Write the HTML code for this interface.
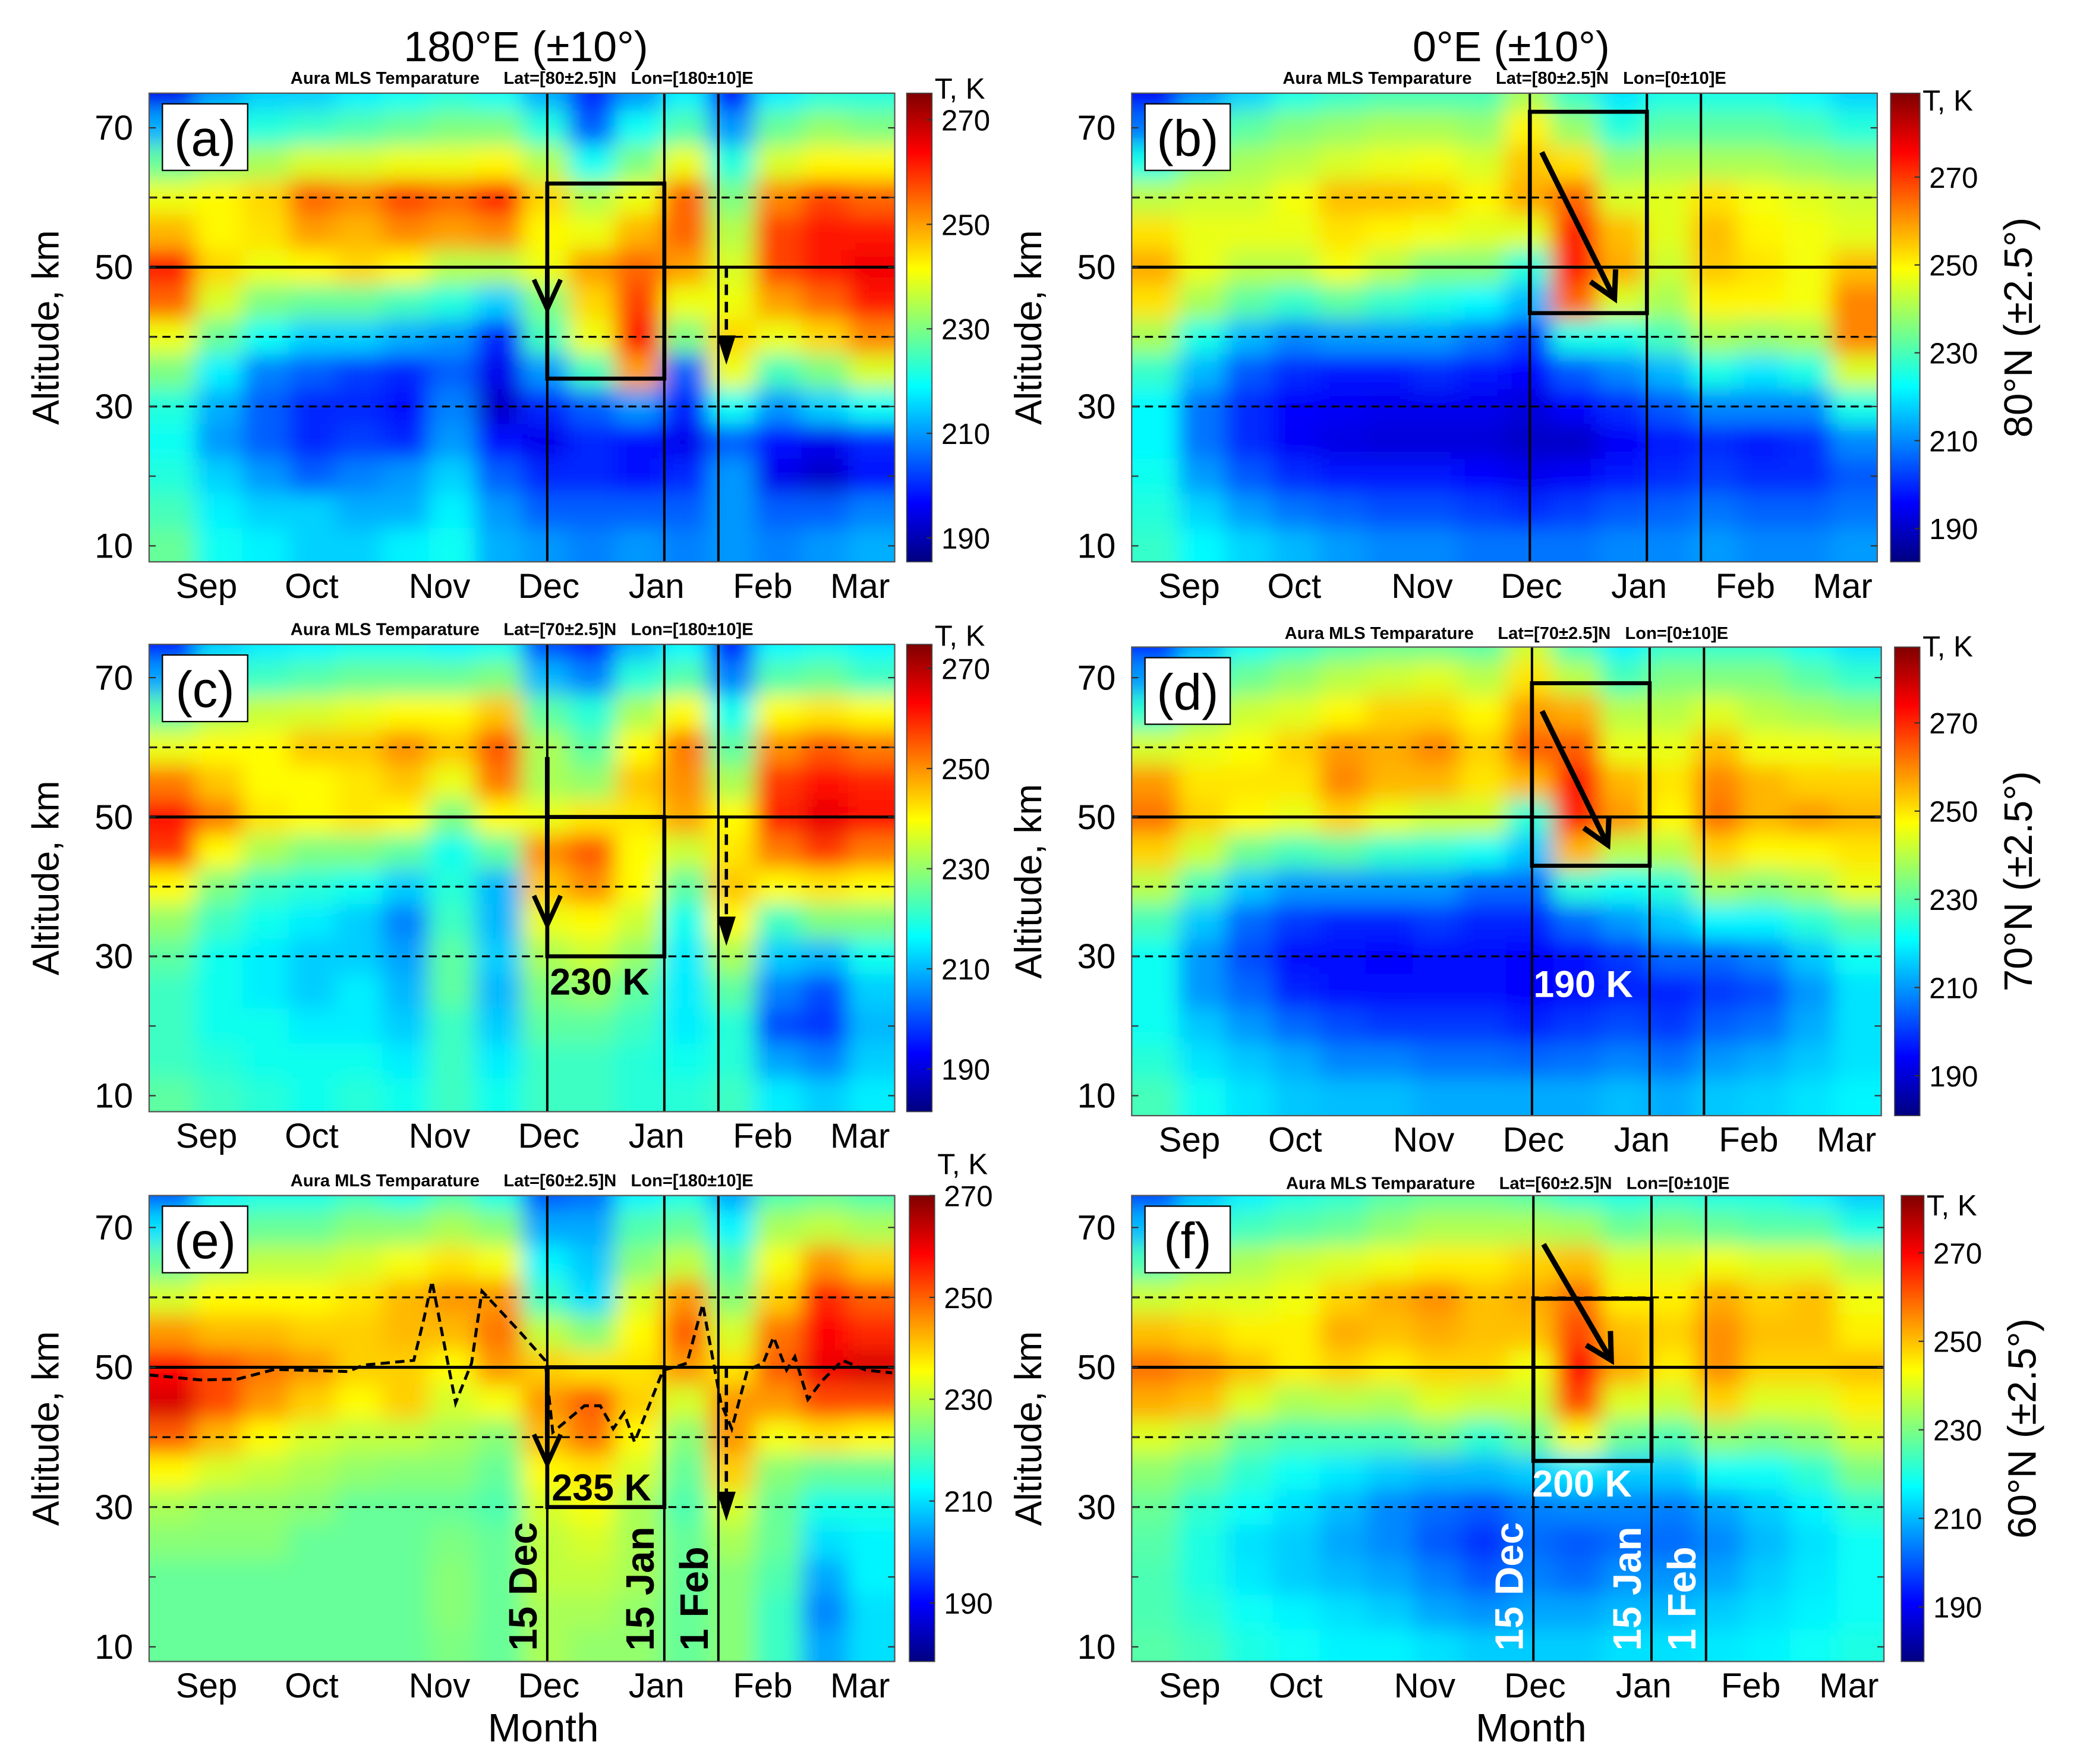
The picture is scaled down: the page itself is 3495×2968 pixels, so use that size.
<!DOCTYPE html>
<html><head><meta charset="utf-8">
<style>
html,body{margin:0;padding:0;background:#fff;}
svg{display:block;font-family:"Liberation Sans",Arial,sans-serif;}
.pre{white-space:pre;}
</style></head>
<body>
<svg id="fig" xmlns="http://www.w3.org/2000/svg" width="3495" height="2968" viewBox="0 0 1560 1325" preserveAspectRatio="none">
<defs>
<filter id="blur" x="-5%" y="-5%" width="110%" height="110%"><feGaussianBlur stdDeviation="8"/></filter>
</defs>
<text x="395" y="46" font-size="32" text-anchor="middle">180°E (±10°)</text>
<text x="1135" y="46" font-size="32" text-anchor="middle">0°E (±10°)</text>
<text x="408" y="1308" font-size="30" text-anchor="middle">Month</text>
<text x="1150" y="1308" font-size="30" text-anchor="middle">Month</text>
</svg>
<script>
// ---------- data ----------
const monthLabels = ["Sep","Oct","Nov","Dec","Jan","Feb","Mar"];
const monthDays = [15.4, 43.6, 77.9, 107.2, 136.1, 164.6, 190.7];
const altTicks = [70, 50, 30, 10];
const altRows = [75,70,65,60,55,50,45,40,35,30,25,20,15,10];
const eventDays = [106.8, 138.2, 152.7];
const eventLabels = ["15 Dec","15 Jan","1 Feb"];
const colTicksA = [270,250,230,210,190];

const tempsA = [
[195,210,215,215,218,220,222,220,212,200,210,218,198,218,222,222],
[212,220,222,224,226,228,230,230,222,205,220,226,210,228,232,230],
[228,232,234,238,238,240,240,242,235,220,230,240,222,238,242,242],
[240,242,245,255,252,258,255,262,245,235,240,255,230,252,258,255],
[248,242,244,250,248,252,250,252,242,240,248,255,235,258,262,262],
[262,245,240,242,245,242,235,235,240,250,255,250,238,258,262,265],
[255,238,230,228,228,225,222,215,230,245,258,240,240,250,255,262],
[240,228,220,215,215,212,210,200,225,240,262,230,245,240,245,252],
[230,218,208,205,202,200,205,195,210,225,250,205,240,225,230,238],
[222,212,205,200,200,198,208,192,200,205,210,200,220,210,215,220],
[220,210,205,200,202,200,210,198,195,200,198,195,205,198,195,200],
[222,215,210,205,208,210,215,205,200,200,198,200,210,195,192,198],
[225,218,215,215,212,212,218,210,205,205,205,205,210,205,205,208],
[228,220,218,215,215,218,220,212,210,208,210,208,210,208,210,212]];
const tempsB = [
[195,210,218,225,228,230,230,230,240,228,220,225,225,225,222,218],
[208,225,232,236,238,240,240,238,250,238,226,232,232,232,230,226],
[225,236,240,242,245,247,248,245,255,252,238,240,240,240,238,236],
[242,244,244,248,256,256,255,250,258,265,245,246,252,248,246,244],
[252,247,247,247,252,250,248,246,246,272,256,246,256,250,248,246],
[258,247,242,242,248,242,236,236,226,272,258,244,255,252,248,256],
[252,240,232,228,232,228,225,222,215,265,245,240,250,250,248,262],
[240,225,215,210,212,212,212,208,202,225,225,230,240,238,240,262],
[228,215,205,200,198,198,200,198,196,205,210,215,225,220,225,245],
[222,208,200,196,195,194,194,194,192,196,200,205,210,210,210,225],
[222,208,200,195,193,192,192,192,190,190,195,198,200,198,200,210],
[224,212,205,200,198,198,198,196,194,195,198,200,202,200,200,205],
[226,218,212,208,206,204,204,202,200,202,205,206,208,206,206,208],
[228,222,218,215,212,210,210,208,208,208,210,210,212,210,210,212]];
const tempsC = [
[195,212,215,216,218,218,216,218,200,196,210,216,196,216,218,216],
[208,220,222,224,226,226,226,228,210,205,220,224,205,224,226,222],
[225,232,235,236,238,240,240,245,225,220,232,240,218,240,242,240],
[238,240,240,245,245,250,245,255,232,225,240,252,225,250,255,252],
[252,245,240,240,242,245,238,252,232,230,245,250,232,258,262,260],
[262,252,242,240,242,240,228,240,238,242,242,248,240,260,265,262],
[258,240,232,228,228,225,218,225,250,255,240,235,242,252,258,252],
[240,228,222,220,218,212,220,210,245,250,240,225,245,240,242,240],
[230,222,218,215,212,205,222,210,238,240,235,218,240,222,228,228],
[225,218,215,212,212,208,225,212,232,235,230,215,232,212,210,218],
[222,218,215,212,215,210,225,210,228,230,225,215,225,205,200,212],
[222,218,218,215,215,212,222,212,225,225,222,215,220,200,198,210],
[222,220,218,218,218,215,222,215,222,222,220,218,220,208,205,212],
[225,222,220,218,220,218,222,218,222,222,220,220,222,215,212,215]];
const tempsD = [
[198,212,222,226,230,232,232,230,242,228,220,226,226,226,222,218],
[210,224,232,236,240,242,244,240,250,240,228,234,234,234,230,226],
[226,236,242,244,248,252,252,248,258,256,240,240,244,240,238,236],
[243,245,247,252,258,256,260,252,264,264,245,245,254,246,246,245],
[258,250,250,250,260,255,255,250,255,272,255,250,260,255,252,252],
[262,252,248,245,252,245,242,242,225,270,258,248,262,255,258,255],
[252,242,232,228,230,226,225,222,215,255,240,240,252,248,248,250],
[240,228,215,210,210,210,210,205,205,225,222,225,238,235,238,245],
[228,215,205,200,198,198,200,198,198,205,210,215,220,220,225,230],
[222,210,202,196,195,194,196,195,194,196,200,205,205,208,215,222],
[222,210,205,198,195,195,195,195,194,195,198,198,200,202,210,218],
[222,215,210,205,202,200,200,200,198,200,202,200,204,206,212,218],
[225,218,215,212,208,208,206,206,205,206,208,206,210,212,215,218],
[228,222,218,215,214,214,212,212,212,212,214,212,215,216,218,220]];
const tempsE = [
[198,212,215,215,218,215,220,215,198,200,212,215,205,220,222,220],
[210,220,222,222,225,225,228,225,205,205,220,222,212,228,230,228],
[222,228,230,230,232,235,238,235,212,208,225,230,220,235,245,240],
[232,236,236,236,238,242,245,245,218,210,232,245,225,240,255,250],
[245,242,242,240,240,242,242,248,230,225,236,250,232,248,258,255],
[258,252,248,245,240,240,236,245,240,238,238,245,238,250,260,262],
[262,252,245,240,236,240,232,235,245,250,240,232,245,245,252,252],
[250,242,236,232,230,230,228,225,242,248,236,225,245,235,238,236],
[236,232,230,228,226,225,225,222,236,238,232,222,240,225,222,222],
[228,226,226,225,222,222,222,220,232,235,228,220,232,222,215,215],
[225,225,225,222,222,222,224,222,230,232,228,222,228,222,210,212],
[222,222,222,222,222,222,225,222,230,230,228,222,225,220,205,212],
[222,222,222,222,222,222,225,222,228,228,226,222,225,218,202,210],
[222,222,222,222,222,222,224,222,228,226,226,222,225,218,205,210]];
const tempsF = [
[198,210,216,220,222,226,228,228,226,222,220,222,220,220,216,212],
[210,218,224,226,228,232,235,235,235,234,228,230,228,226,226,220],
[225,232,235,238,240,242,245,245,248,250,240,240,242,240,240,235],
[238,240,240,242,248,252,255,250,252,258,245,245,252,248,250,242],
[250,248,245,245,252,250,252,250,250,262,250,248,255,250,250,245],
[258,255,250,245,248,245,248,248,242,268,252,245,255,248,248,250],
[252,250,240,235,236,235,240,238,238,262,240,238,248,240,240,245],
[240,236,228,225,225,225,228,222,228,242,228,225,232,230,232,238],
[232,228,222,218,215,212,210,210,212,215,212,212,218,218,222,230],
[228,222,218,214,210,205,202,200,204,205,205,204,208,212,216,222],
[226,220,214,212,208,205,200,196,202,200,202,202,205,210,214,218],
[225,220,215,212,210,208,204,200,204,202,206,206,208,212,215,218],
[225,222,218,216,214,212,208,206,208,208,210,210,212,214,216,218],
[226,224,220,218,216,216,214,212,212,212,214,214,215,216,218,220]];

// dashed altitude curve in panel (e)
const curveDays = [0,13.8,23.7,33.6,53.3,57.5,71,73.8,75.9,82.2,86.5,89.3,99.9,106.2,108.3,116.8,121,124.5,127.4,130.2,137.9,141.5,144.3,148.5,153.4,156.3,160.5,164.7,167.5,171,173.2,176.7,180.4,186,192.2,199.3];
const curveAlts = [48.9,48.2,48.3,49.7,49.4,50.3,51,57.1,62.3,44.9,50.6,60.9,54.8,51,40.7,44.5,44.5,41.2,43.5,39.3,49.6,50.1,50.6,59,44.9,41.2,49.6,50.6,54.3,49.6,51.5,45.4,48,51,49.6,49.2];

// ---------- helpers ----------
const NS = "http://www.w3.org/2000/svg";
const svg = document.getElementById("fig");
function el(tag, attrs, parent){
  const e = document.createElementNS(NS, tag);
  for (const k in attrs) e.setAttribute(k, attrs[k]);
  (parent||svg).appendChild(e);
  return e;
}
function jet(f){
  f = Math.max(0, Math.min(1, f));
  const c = v => Math.round(255*Math.max(0, Math.min(1, v)));
  return `rgb(${c(1.5-Math.abs(4*f-3))},${c(1.5-Math.abs(4*f-2))},${c(1.5-Math.abs(4*f-1))})`;
}

const panels = [
 {id:"a", temps:tempsA, x0:112, x1:672, y0:70, y1:422, y70:96, y10:410, cb:[681,700], cbT:[90,404], title:"Aura MLS Temparature     Lat=[80±2.5]N   Lon=[180±10]E", ty:63, side:"left", ckY:74,
  box:[62,34], arrow:{type:"down", from:50, to:44}, dash:{from:50, to:36}},
 {id:"b", temps:tempsB, x0:850, x1:1410, y0:70, y1:422, y70:96, y10:410, cb:[1420,1442], cbT:[133,397], title:"Aura MLS Temparature     Lat=[80±2.5]N   Lon=[0±10]E", ty:63, side:"right", lat:"80°N (±2.5°)", ckY:83,
  box:[72.3,43.4], diag:[[110,66.5],[129.5,45.5]]},
 {id:"c", temps:tempsC, x0:112, x1:672, y0:484, y1:835, y70:509, y10:823, cb:[681,700], cbT:[502,803], title:"Aura MLS Temparature     Lat=[70±2.5]N   Lon=[180±10]E", ty:477, side:"left", ckY:485,
  box:[50,30], arrow:{type:"down", from:58.6, to:34.5}, dash:{from:50, to:31.5}, label:{text:"230 K", day:107.5, y:747, color:"#000"}},
 {id:"d", temps:tempsD, x0:850, x1:1413, y0:486, y1:838, y70:509, y10:823, cb:[1423,1442], cbT:[543,808], title:"Aura MLS Temparature     Lat=[70±2.5]N   Lon=[0±10]E", ty:480, side:"right", lat:"70°N (±2.5°)", ckY:493,
  box:[69.2,43], diag:[[109.5,65.2],[127,46]], label:{text:"190 K", day:107.2, y:749, color:"#fff"}},
 {id:"e", temps:tempsE, x0:112, x1:672, y0:898, y1:1248, y70:922, y10:1237, cb:[683,702], cbT:[898,1204], title:"Aura MLS Temparature     Lat=[60±2.5]N   Lon=[180±10]E", ty:891, side:"left", ckY:882,
  box:[50,30], arrow:{type:"down", from:50, to:36.2}, dash:{from:50, to:28}, label:{text:"235 K", day:108, y:1127, color:"#000"}, events:"#000", curve:true},
 {id:"f", temps:tempsF, x0:850, x1:1415, y0:898, y1:1248, y70:922, y10:1237, cb:[1428,1445], cbT:[941,1207], title:"Aura MLS Temparature     Lat=[60±2.5]N   Lon=[0±10]E", ty:893, side:"right", lat:"60°N (±2.5°)", ckY:913,
  box:[59.8,36.6], diag:[[109.5,67.6],[127.5,51]], label:{text:"200 K", day:106.5, y:1124, color:"#fff"}, events:"#fff"}
];

panels.forEach(p => {
  const xs = d => p.x0 + d*(p.x1-p.x0)/200;
  const ys = a => p.y10 + (a-10)*(p.y70-p.y10)/60;
  const tHi = 270, tLo = 190;
  const cy = t => p.cbT[1] + (t-tLo)*(p.cbT[0]-p.cbT[1])/(tHi-tLo);
  const tAt = y => tLo + (y-p.cbT[1])*(tHi-tLo)/(p.cbT[0]-p.cbT[1]);
  const vmax = tAt(p.y0), vmin = tAt(p.y1);
  const frac = t => (t-vmin)/(vmax-vmin);

  const g = el("g", {});
  
  

  const cp = el("clipPath", {id:"clip"+p.id}, g);
  el("rect", {x:p.x0, y:p.y0, width:p.x1-p.x0, height:p.y1-p.y0}, cp);
  const outer = el("g", {"clip-path":`url(#clip${p.id})`}, g);
  
  
  const inner = el("g", {filter:"url(#blur)"}, outer);
  const nc = p.temps[0].length;
  p.temps.forEach((row, j) => {
    row.forEach((t, i) => {
      let xa = xs(200*i/nc), xb = xs(200*(i+1)/nc);
      let ya = ys(altRows[j]+2.5), yb = ys(altRows[j]-2.5);
      if (i===0) xa -= 25; if (i===nc-1) xb += 25;
      if (j===0) ya -= 25; if (j===p.temps.length-1) yb += 25;
      const r = el("rect", {x:xa.toFixed(1), y:ya.toFixed(1), width:(xb-xa+0.6).toFixed(1), height:(yb-ya+0.6).toFixed(1), fill:jet(frac(t))}, inner);
      
      
    });
  });

  [60,40,30].forEach(a => {
    const l = el("line", {x1:p.x0, x2:p.x1, y1:ys(a), y2:ys(a), stroke:"#000", "stroke-width":1.4, "stroke-dasharray":"6,4"}, g);
    
    
  });
  const sl = el("line", {x1:p.x0, x2:p.x1, y1:ys(50), y2:ys(50), stroke:"#000", "stroke-width":2.2}, g);
  
  
  eventDays.forEach((d, k) => {
    const l = el("line", {x1:xs(d), x2:xs(d), y1:p.y0, y2:p.y1, stroke:"#000", "stroke-width":1.8}, g);
    
    
  });
  const bx = el("rect", {x:xs(eventDays[0]), y:ys(p.box[0]), width:xs(eventDays[1])-xs(eventDays[0]), height:ys(p.box[1])-ys(p.box[0]), fill:"none", stroke:"#000", "stroke-width":3}, g);
  
  

  if (p.arrow){
    const x = xs(eventDays[0]);
    const a1 = el("line", {x1:x, x2:x, y1:ys(p.arrow.from), y2:ys(p.arrow.to), stroke:"#000", "stroke-width":3.5}, g);
    
    
    const h = el("polyline", {points:`${x-10},${ys(p.arrow.to)-22} ${x},${ys(p.arrow.to)} ${x+10},${ys(p.arrow.to)-22}`, fill:"none", stroke:"#000", "stroke-width":3.5}, g);
    
    
    const dx = xs(eventDays[2]) + 6;
    const d1 = el("line", {x1:dx, x2:dx, y1:ys(p.dash.from), y2:ys(p.dash.to)-16, stroke:"#000", "stroke-width":2.5, "stroke-dasharray":"8,5"}, g);
    
    
    const dh = el("polygon", {points:`${dx-7},${ys(p.dash.to)-22} ${dx+7},${ys(p.dash.to)-22} ${dx},${ys(p.dash.to)}`, fill:"#000"}, g);
    
    
  }
  if (p.diag){
    const [s, e] = p.diag;
    const X1=xs(s[0]), Y1=ys(s[1]), X2=xs(e[0]), Y2=ys(e[1]);
    const l = el("line", {x1:X1, y1:Y1, x2:X2, y2:Y2, stroke:"#000", "stroke-width":4}, g);
    
    
    const ang = Math.atan2(Y2-Y1, X2-X1), L = 22, w = 0.5;
    const hp = `${X2-L*Math.cos(ang-w)},${Y2-L*Math.sin(ang-w)} ${X2},${Y2} ${X2-L*Math.cos(ang+w)},${Y2-L*Math.sin(ang+w)}`;
    const h = el("polyline", {points:hp, fill:"none", stroke:"#000", "stroke-width":4}, g);
    
    
  }
  if (p.curve){
    const pts = curveDays.map((d,i) => `${xs(d).toFixed(1)},${ys(curveAlts[i]).toFixed(1)}`).join(" ");
    const c = el("polyline", {points:pts, fill:"none", stroke:"#000", "stroke-width":2.2, "stroke-dasharray":"7,4"}, g);
    
    
  }
  if (p.label){
    const t = el("text", {x:xs(p.label.day), y:p.label.y, "font-size":28, "font-weight":"bold", fill:p.label.color}, g);
    t.textContent = p.label.text;
    
    
  }
  if (p.events){
    eventLabels.forEach((s, k) => {
      const x = xs(eventDays[k]) - 8;
      const t = el("text", {x:x, y:p.y1-8, "font-size":30, "font-weight":"bold", fill:p.events, transform:`rotate(-90 ${x} ${p.y1-8})`}, g);
      t.textContent = s;
      
      
    });
  }

  const fr = el("rect", {x:p.x0, y:p.y0, width:p.x1-p.x0, height:p.y1-p.y0, fill:"none", stroke:"#555", "stroke-width":1}, g);
  
  

  const lb = el("rect", {x:p.x0+10, y:p.y0+8, width:64, height:50, fill:"#fff", stroke:"#000", "stroke-width":1}, g);
  
  
  const lt = el("text", {x:p.x0+42, y:p.y0+47, "font-size":38, "text-anchor":"middle"}, g);
  lt.textContent = "("+p.id+")";
  
  

  const tt = el("text", {x:(p.x0+p.x1)/2, y:p.ty, "font-size":13, "font-weight":"bold", "text-anchor":"middle", "class":"pre"}, g);
  tt.textContent = p.title;
  
  

  altTicks.forEach(a => {
    const t = el("text", {x:p.x0-12, y:ys(a)+9, "font-size":26, "text-anchor":"end"}, g);
    t.textContent = a;
    
    
  });
  [10,20,30,40,50,60,70].forEach(a => {
    el("line", {x1:p.x0, x2:p.x0+5, y1:ys(a), y2:ys(a), stroke:"#333", "stroke-width":1}, g);
    el("line", {x1:p.x1-5, x2:p.x1, y1:ys(a), y2:ys(a), stroke:"#333", "stroke-width":1}, g);
  });
  const yt = el("text", {x:0, y:0, "font-size":28, "text-anchor":"middle", transform:`translate(${p.x0-68},${(p.y0+p.y1)/2}) rotate(-90)`}, g);
  yt.textContent = "Altitude, km";
  
  

  monthLabels.forEach((m, k) => {
    const t = el("text", {x:xs(monthDays[k]), y:p.y1+27, "font-size":26, "text-anchor":"middle"}, g);
    t.textContent = m;
    
    
  });

  const gid = "grad"+p.id;
  const lg = el("linearGradient", {id:gid, x1:0, y1:1, x2:0, y2:0}, g);
  for (let s = 0; s <= 16; s++) el("stop", {offset:s/16, "stop-color":jet(s/16)}, lg);
  const cbr = el("rect", {x:p.cb[0], y:p.y0, width:p.cb[1]-p.cb[0], height:p.y1-p.y0, fill:`url(#${gid})`, stroke:"#444", "stroke-width":0.8}, g);
  
  
  colTicksA.forEach(v => {
    el("line", {x1:p.cb[1]-4, x2:p.cb[1], y1:cy(v), y2:cy(v), stroke:"#333"}, g);
    const t = el("text", {x:p.cb[1]+7, y:cy(v)+8, "font-size":22}, g);
    t.textContent = v;
    
    
  });
  const ck = el("text", {x:p.cb[1]+2, y:p.ckY, "font-size":22}, g);
  ck.textContent = "T, K";
  
  
  if (p.lat){
    const cx = p.cb[1] + 84, cyy = (p.y0+p.y1)/2;
    const t = el("text", {x:0, y:0, "font-size":30, "text-anchor":"middle", transform:`translate(${cx},${cyy}) rotate(-90)`}, g);
    t.textContent = p.lat;
    
    
  }
});
</script>
</body></html>
